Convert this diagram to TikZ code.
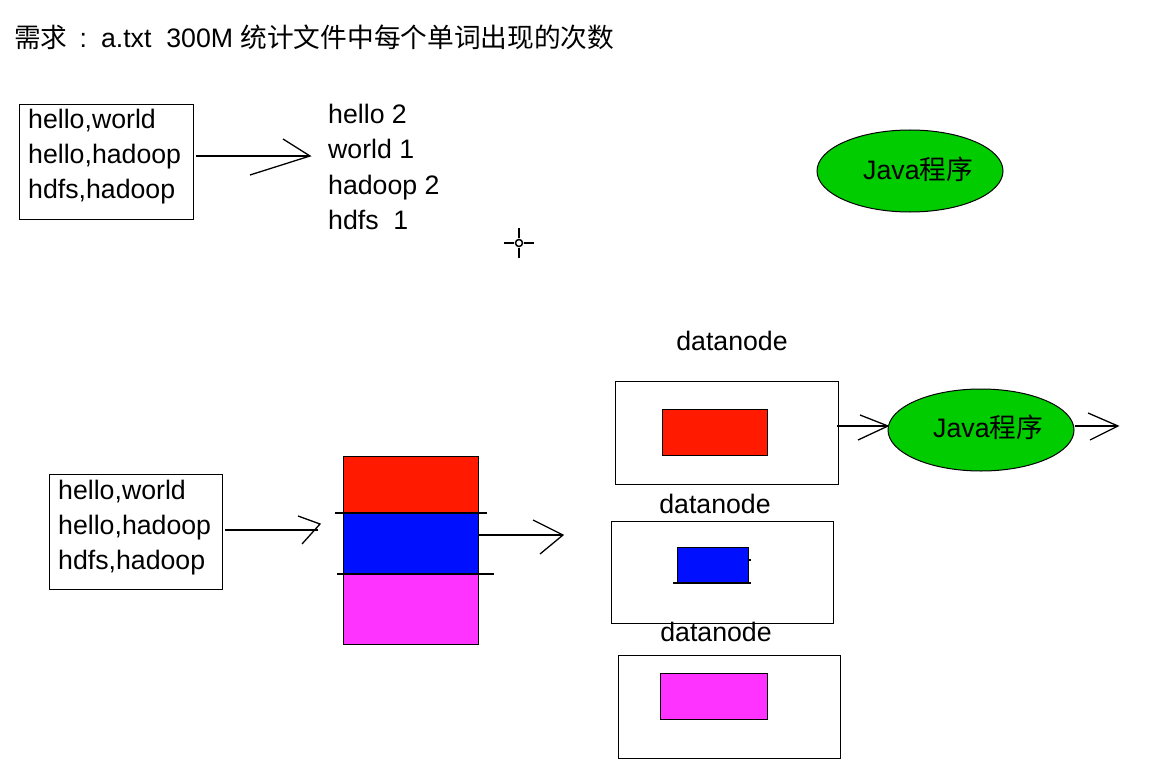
\documentclass[tikz,border=0pt]{standalone}
\usepackage{fontspec}
\setmainfont{Liberation Sans}
\newfontfamily\cjk{Noto Sans CJK SC}
\usetikzlibrary{shapes.geometric}
\definecolor{cred}{RGB}{255,26,0}
\definecolor{cblue}{RGB}{0,16,255}
\definecolor{cmag}{RGB}{255,51,255}
\definecolor{cgreen}{RGB}{0,204,0}
\tikzset{
  txt/.style={anchor=base west, inner sep=0pt, font=\fontsize{26.7}{30}\selectfont},
  lbl/.style={anchor=base, inner sep=0pt, font=\fontsize{26.7}{30}\selectfont},
  frame/.style={draw=black, line width=1.3pt, anchor=north west, inner sep=0pt},
  blk/.style={draw=black, line width=1pt, anchor=north west, inner sep=0pt},
  prog/.style={ellipse, draw=black, line width=1pt, fill=cgreen, minimum width=186, minimum height=82, inner sep=0pt},
  ln/.style={line width=1.3pt},
}
\begin{document}
\begin{tikzpicture}[x=1pt,y=-1pt]
\useasboundingbox[fill=white] (0,0) rectangle (1153,778);
% title
\node[txt] (title) at (14,48) {{\cjk 需求}\hspace{12pt}:\hspace{14pt}a.txt\ \ 300M {\cjk 统计文件中每个单词出现的次数}};
% top input box
\node[frame, minimum width=174, minimum height=115] (box1) at (19,104) {};
\node[txt] (b1l1) at (28,129) {hello,world};
\node[txt] (b1l2) at (28,164) {hello,hadoop};
\node[txt] (b1l3) at (28,199) {hdfs,hadoop};
% arrow 1
\coordinate (t1) at (310,156);
\draw[ln] (box1.east |- t1) ++(2,0) -- (t1);
\draw[ln] (283,139) -- (t1) -- (250,175);
% counts
\node[txt] (c1) at (328,124) {hello 2};
\node[txt] (c2) at (328,159) {world 1};
\node[txt] (c3) at (328,194) {hadoop 2};
\node[txt] (c4) at (328,229) {hdfs\ \ 1};
% java ellipse top
\node[prog] (java1) at (910,171) {};
\node[txt] (java1t) at (863,179) {Java{\cjk 程序}};
% cursor
\coordinate (cur) at (519,243);
\draw[line width=2pt] (504,243) -- (514,243) (524,243) -- (534,243) (519,228) -- (519,238) (519,248) -- (519,258);
\draw[line width=1.5pt] (cur) circle (3.5);
% bottom input box
\node[frame, minimum width=173, minimum height=115] (box2) at (49,474) {};
\node[txt] (b2l1) at (58,499) {hello,world};
\node[txt] (b2l2) at (58,534) {hello,hadoop};
\node[txt] (b2l3) at (58,569) {hdfs,hadoop};
% arrow 2
\coordinate (t2) at (320,524);
\coordinate (e2) at (318,530);
\draw[ln] (box2.east |- e2) ++(2,0) -- (e2);
\draw[ln] (298,516) -- (t2) -- (302,544);
% stacked blocks
\node[blk, fill=cred, minimum width=135, minimum height=57] (sred) at (343,456) {};
\node[blk, fill=cblue, minimum width=135, minimum height=61] (sblue) at (343,513) {};
\node[blk, fill=cmag, minimum width=135, minimum height=70] (smag) at (343,574) {};
\draw[ln] (335,513) -- (487,513);
\draw[ln] (337,574) -- (494,574);
% arrow 3
\coordinate (t3) at (563,535);
\draw[ln] (sblue.east |- t3) -- (t3);
\draw[ln] (533,520) -- (t3) -- (540,554);
% datanode 1
\node[lbl] (dn1) at (732,350) {datanode};
\node[frame, minimum width=223, minimum height=103] (d1) at (615,381) {};
\node[blk, fill=cred, minimum width=105, minimum height=46] (d1b) at (662,409) {};
% arrow to java2
\coordinate (t4) at (888,426);
\draw[ln] (d1.east |- t4) ++(-2,0) -- (t4);
\draw[ln] (860,415) -- (t4) -- (858,440);
\node[prog] (java2) at (981,430) {};
\node[txt] (java2t) at (933,437) {Java{\cjk 程序}};
\coordinate (t5) at (1118,426);
\draw[ln] (java2.east |- t5) -- (t5);
\draw[ln] (1088,413) -- (t5) -- (1090,440);
% datanode 2
\node[lbl] (dn2) at (715,513) {datanode};
\node[frame, minimum width=222, minimum height=102] (d2) at (611,521) {};
\node[blk, fill=cblue, minimum width=71, minimum height=36] (d2b) at (677,547) {};
\draw[ln] (673,583) -- (751,583);
\draw[ln] (748,560) -- (751,560);
% datanode 3
\node[lbl] (dn3) at (716,641) {datanode};
\node[frame, minimum width=222, minimum height=103] (d3) at (618,655) {};
\node[blk, fill=cmag, minimum width=107, minimum height=46] (d3b) at (660,673) {};
\end{tikzpicture}
\end{document}
